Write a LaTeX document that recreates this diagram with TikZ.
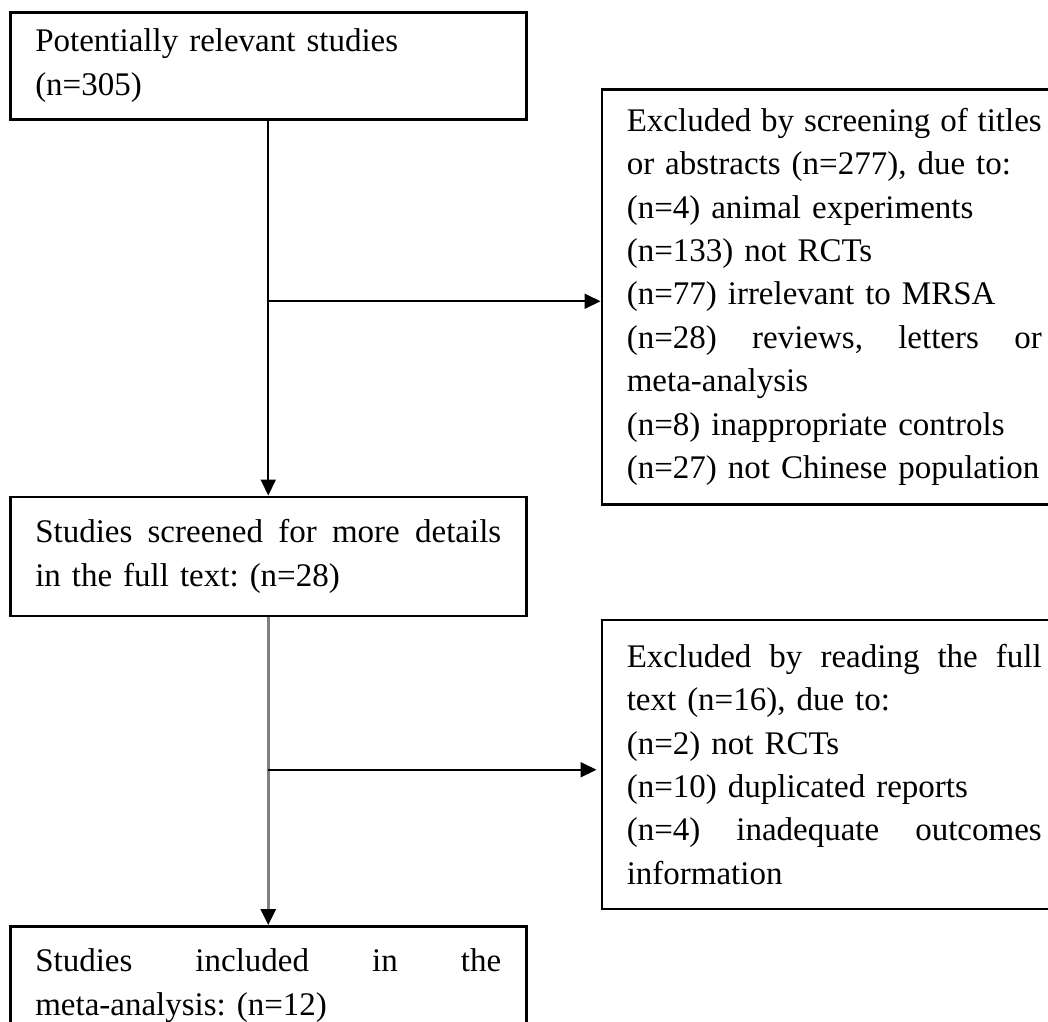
\documentclass[tikz,border=0pt]{standalone}
\usepackage{fontspec}
\setmainfont{Liberation Serif}
\usepackage{tikz}
\usetikzlibrary{positioning,arrows.meta}

% one justified line (align=left fixes \spaceskip, so free it here)
\newcommand{\fullline}[2][415pt]{\makebox[#1][s]{\spaceskip=0pt\xspaceskip=0pt #2}}

\begin{document}
\begin{tikzpicture}
      [ x=1pt, y=-1pt,
        flowbox/.style={draw, line width=2.5pt, inner xsep=25pt, inner ysep=0pt,
                        align=left, font=\fontsize{33}{43.4}\selectfont\frenchspacing},
        mainbox/.style={flowbox, text width=466pt},
        exclbox/.style={flowbox, text width=415pt},
        flow/.style={line width=2pt, -{Triangle[length=16pt,width=15pt]}},
        grayflow/.style={line width=3pt, draw=black!50,
                         -{Triangle[length=16pt,width=15pt,color=black]}}
      ]
      \useasboundingbox (0,0) rectangle (1048,1021);
      \clip (0,0) rectangle (1048,1021);

      \node[mainbox, minimum height=107pt, anchor=north west]
                        (potential) at (9,11)               {Potentially relevant studies\\(n=305)};
      \node[mainbox, minimum height=119pt]
                        (screened)  [below=375pt of potential] {\fullline[466pt]{Studies screened for more details}\\
                                                               in the full text: (n=28)};
      \node[mainbox, minimum height=119pt]
                        (included)  [below=308pt of screened]  {\fullline[466pt]{Studies included in the}\\
                                                               meta-analysis: (n=12)};
      \node[exclbox, minimum height=415pt]
                        (excl1)     [below right=77pt and 73pt of potential.north east]
                                                              {\fullline{Excluded by screening of titles}\\
                                                               or abstracts (n=277), due to:\\
                                                               (n=4) animal experiments\\
                                                               (n=133) not RCTs\\
                                                               (n=77) irrelevant to MRSA\\
                                                               \fullline{(n=28) reviews, letters or}\\
                                                               meta-analysis\\
                                                               (n=8) inappropriate controls\\
                                                               (n=27) not Chinese population};
      \node[exclbox, minimum height=289pt]
                        (excl2)     [below=113pt of excl1]     {\fullline{Excluded by reading the full}\\
                                                               text (n=16), due to:\\
                                                               (n=2) not RCTs\\
                                                               (n=10) duplicated reports\\
                                                               \fullline{(n=4) inadequate outcomes}\\
                                                               information};

      \coordinate (fork1) at ([yshift=-4.5pt]excl1.west);
      \coordinate (fork2) at ([yshift=-5.5pt]excl2.west);

      \path[flow]     (potential) edge (screened);
      \path[grayflow] (screened)  edge (included);
      \draw[flow]     (potential.south |- fork1) -- (fork1);
      \draw[flow, shorten >=4pt] (screened.south |- fork2) -- (fork2);

\end{tikzpicture}
\end{document}
